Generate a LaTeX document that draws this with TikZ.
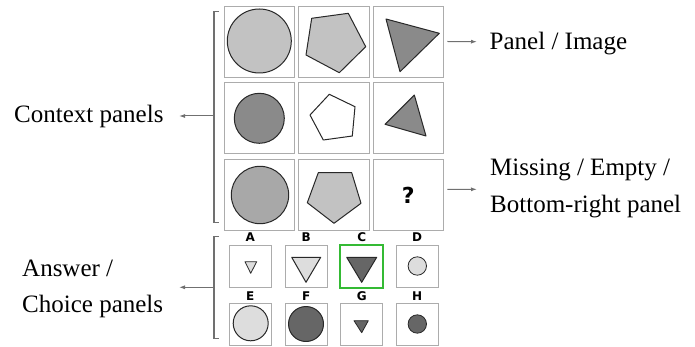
\documentclass[tikz,border=0pt]{standalone}
\usepackage{fontspec}
\setmainfont{Liberation Serif}
\newfontfamily\panelfont{DejaVu Sans}
\usetikzlibrary{arrows.meta}
\definecolor{edgegray}{RGB}{172,172,172}
\definecolor{linegray}{RGB}{112,112,112}
\definecolor{outline}{RGB}{40,40,40}
\definecolor{shapelight}{RGB}{194,194,194}
\definecolor{shapemid}{RGB}{168,168,168}
\definecolor{shapedark}{RGB}{138,138,138}
\definecolor{optlight}{RGB}{221,221,221}
\definecolor{optdark}{RGB}{102,102,102}
\definecolor{pickgreen}{RGB}{52,186,52}

\begin{document}
\begin{tikzpicture}[x=1pt,y=-1pt,
  panel/.style={draw=edgegray,line width=0.8pt,minimum width=70.5pt,minimum height=71pt,inner sep=0pt},
  option/.style={draw=edgegray,line width=0.8pt,minimum size=42pt,inner sep=0pt},
  fig/.style={draw=outline,line width=1pt,line join=round},
  brace/.style={draw=linegray,line width=1.3pt},
  arr/.style={draw=linegray,line width=1pt,-{Latex[length=6pt,width=4pt]}},
  lbl/.style={font=\fontsize{25}{36.5}\selectfont,inner sep=0pt},
  tag/.style={font=\panelfont\bfseries\fontsize{12}{14}\selectfont,inner sep=0pt}]
\useasboundingbox (0,0) rectangle (695,347);

% 3x3 grid of panels
\foreach \c/\x in {1/259.5,2/334,3/408.2}
  \foreach \r/\y in {1/41.5,2/118,3/195}
    \node[panel] (p\r\c) at (\x,\y) {};
\node[font=\panelfont\bfseries\fontsize{22}{24}\selectfont,inner sep=0pt] (qmark) at (p33) {?};

% shapes in the panels
\draw[fig,fill=shapelight] (259.3,41) circle[radius=32];
\draw[fig,fill=shapelight] (311.7,18.3) -- (348.3,13.3) -- (365.7,46.7) -- (339.3,72.7) -- (306,55) -- cycle;
\draw[fig,fill=shapedark] (386,19) -- (439.3,33.3) -- (400,71.7) -- cycle;
\draw[fig,fill=shapedark] (259.3,118.3) circle[radius=25];
\draw[fig,fill=white] (329.3,94.3) -- (355,106.7) -- (352.3,136) -- (323.3,140) -- (310,115) -- cycle;
\draw[fig,fill=shapedark] (414.3,95) -- (426,136) -- (385,124.3) -- cycle;
\draw[fig,fill=shapemid] (260,195) circle[radius=28.7];
\draw[fig,fill=shapelight] (318.3,172.7) -- (351.7,172.7) -- (361,203.3) -- (334,223.3) -- (307.3,202.7) -- cycle;

% answer options
\foreach \t/\x/\y in {A/250.2/266.5,B/306.2/266.5,C/361.7/266.5,D/417.2/266.5,
                      E/250.2/324.8,F/306.2/324.8,G/361.7/324.8,H/417.2/324.8}
  \node[option,label={[tag,label distance=3pt]above:\t}] (opt\t) at (\x,\y) {};
\draw[pickgreen,line width=1.8pt] (optC.south west) rectangle (optC.north east);

\draw[fig,line width=0.8pt,fill=optlight] (245,261.7) -- (256.7,261.7) -- (250.7,273.3) -- cycle;
\draw[fig,fill=optlight] (291.7,257.3) -- (320.7,257.3) -- (306,282.3) -- cycle;
\draw[fig,fill=optdark] (346.7,257.3) -- (376.7,257.3) -- (361.7,282.3) -- cycle;
\draw[fig,line width=0.8pt,fill=optlight] (417.3,266) circle[radius=9.2];
\draw[fig,fill=optlight] (250.7,323.3) circle[radius=17.5];
\draw[fig,fill=optdark] (306,324) circle[radius=17.5];
\draw[fig,line width=0.8pt,fill=optdark] (354,320.7) -- (368.3,320.7) -- (361.7,332.7) -- cycle;
\draw[fig,line width=0.8pt,fill=optdark] (417.3,324) circle[radius=9.2];

% brackets
\draw[brace] (219,11.7) -- (214,11.7) -- (214,222.7) -- (219,222.7);
\draw[brace] (219,236.7) -- (214,236.7) -- (214,338.3) -- (219,338.3);
\coordinate (ctxmid) at (214,116);
\coordinate (ctxtip) at (179,116);
\coordinate (ansmid) at (214,287.3);
\coordinate (anstip) at (179,287.3);
\coordinate (imgtip) at (477,41.7);
\coordinate (misstip) at (477,189.3);

% labels (base of a two-line node is its last line)
\node[lbl,anchor=base west] (ctxlbl) at (14,122.7) {Context panels};
\node[lbl,anchor=base west,align=left] (anslbl) at (22,312.5) {Answer /\\Choice panels};
\node[lbl,anchor=base west] (imglbl) at (489.5,49.3) {Panel / Image};
\node[lbl,anchor=base west,align=left] (misslbl) at (490,212) {Missing / Empty /\\Bottom-right panel};

% arrows
\draw[arr] (ctxmid) -- (ctxtip);
\draw[arr] (ansmid) -- (anstip);
\draw[arr] ([xshift=3.5pt]p13.east) -- (imgtip);
\draw[arr] ([xshift=3.5pt,yshift=5.5pt]p33.east) -- (misstip);
\end{tikzpicture}
\end{document}
